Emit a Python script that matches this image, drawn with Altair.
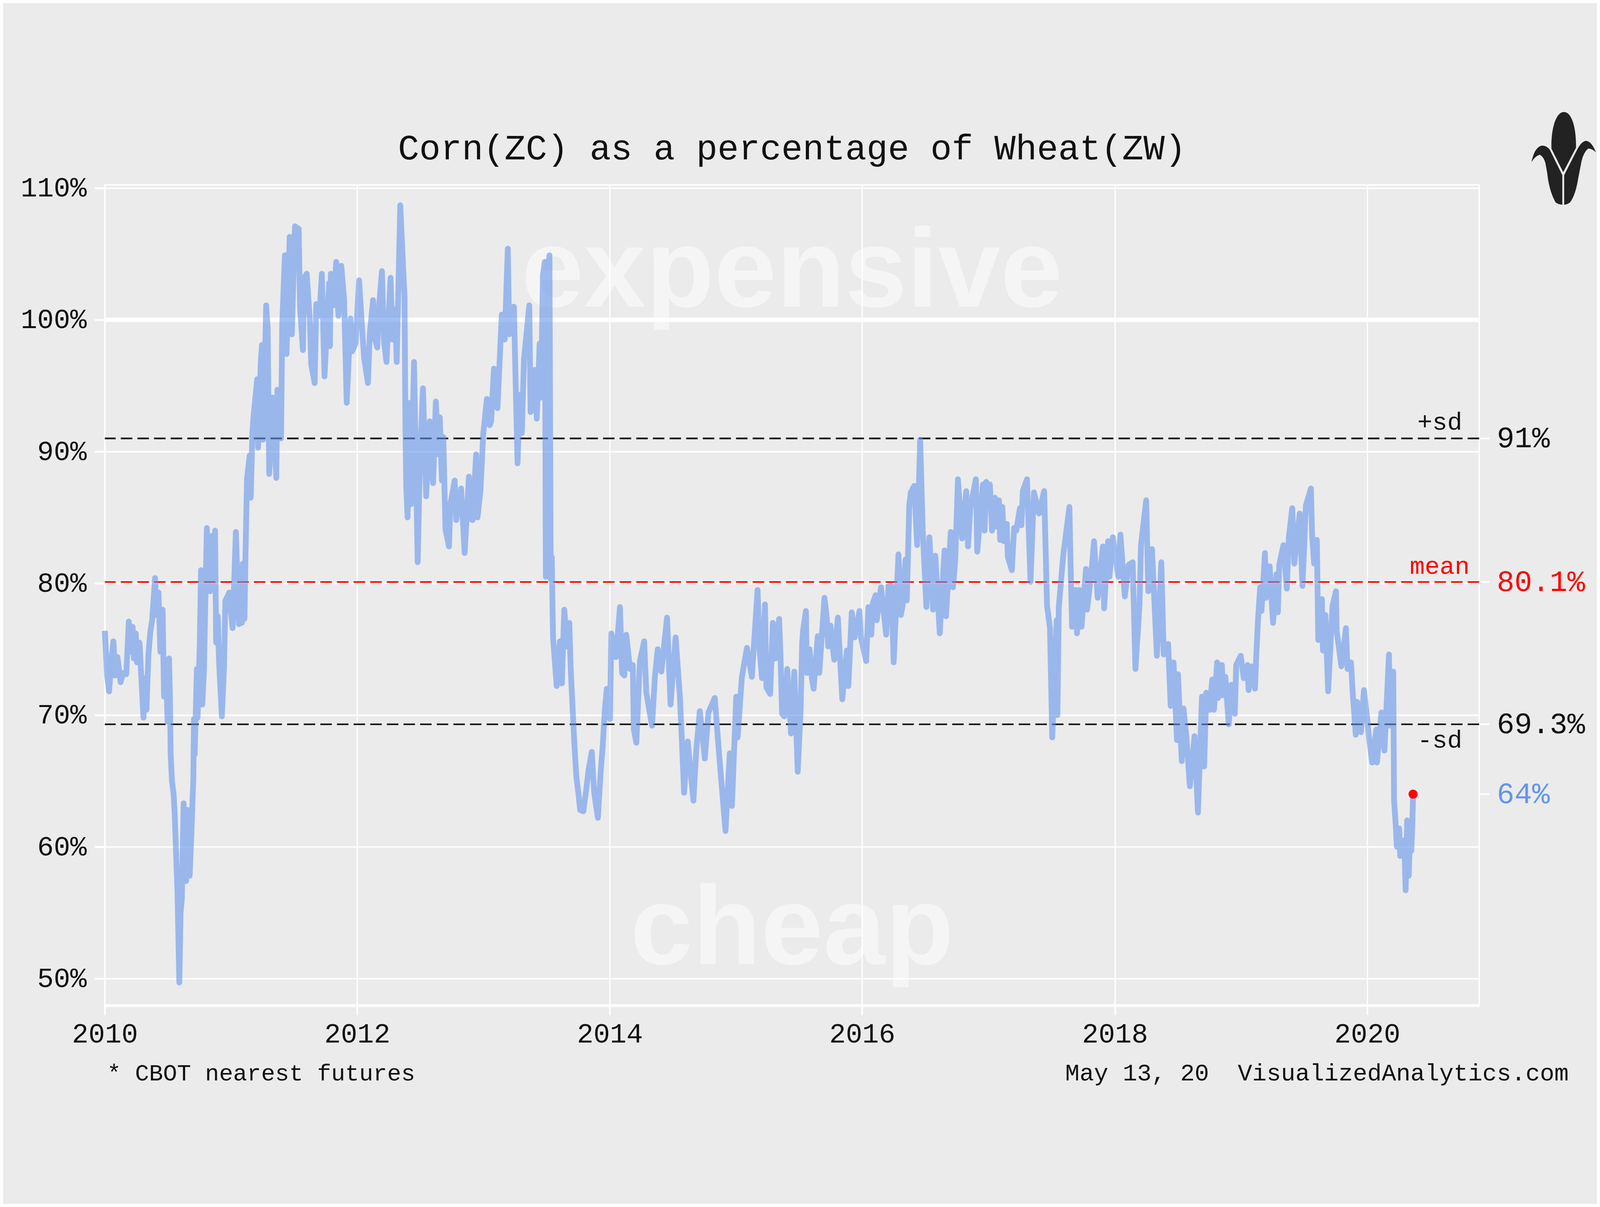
import altair as alt
import pandas as pd

# ---------------- text content ----------------
title_text = "Corn(ZC) as a percentage of Wheat(ZW)"
footnote_left = "* CBOT nearest futures"
footnote_right = "May 13, 20\u00a0\u00a0VisualizedAnalytics.com"
watermark_top = "expensive"
watermark_bottom = "cheap"

x_tick_years = [2010, 2012, 2014, 2016, 2018, 2020]
y_tick_values = [50, 60, 70, 80, 90, 100, 110]
highlight_level = [100]

band_names = ["+sd", "mean", "-sd"]
band_values = [91.0, 80.1, 69.3]
band_colors = ["#111111", "red", "#111111"]

right_labels = ["91%", "80.1%", "69.3%", "64%"]
right_values = [91.0, 80.1, 69.3, 64.0]
right_colors = ["#111111", "red", "#111111", "#6495ED"]

# ---------------- series: (years since 2010-01-01, percent) ----------------
pts_2010 = [
    (0.000, 76.4), (0.018, 73.0), (0.034, 71.8), (0.050, 74.0), (0.068, 75.6), (0.082, 73.0),
    (0.100, 74.4), (0.125, 72.5), (0.145, 73.2), (0.170, 73.1), (0.190, 77.1), (0.205, 74.8),
    (0.220, 76.7), (0.230, 74.3), (0.245, 76.2), (0.255, 74.0), (0.275, 75.5), (0.306, 69.8),
    (0.318, 72.8), (0.330, 70.4), (0.345, 74.5), (0.360, 76.3), (0.375, 77.2), (0.398, 80.4),
    (0.412, 77.6), (0.425, 79.3), (0.440, 74.8), (0.458, 78.0), (0.469, 71.4), (0.485, 73.5),
    (0.497, 69.5), (0.509, 74.3), (0.515, 71.7), (0.522, 66.9), (0.532, 65.0), (0.545, 64.0),
    (0.554, 62.4), (0.565, 59.4), (0.576, 56.4), (0.590, 49.7), (0.600, 55.0), (0.610, 56.0),
    (0.624, 63.3), (0.644, 57.4), (0.655, 62.8), (0.672, 57.8), (0.684, 60.6), (0.701, 65.1),
    (0.706, 69.7), (0.712, 67.0), (0.729, 73.5), (0.735, 69.8), (0.752, 75.4), (0.762, 81.0),
    (0.772, 70.8), (0.785, 73.3), (0.795, 78.0), (0.808, 84.2), (0.823, 80.0), (0.834, 79.4),
    (0.846, 83.6), (0.860, 80.0), (0.873, 84.0), (0.882, 75.5), (0.895, 77.5), (0.905, 74.0),
    (0.927, 69.9), (0.944, 73.6), (0.955, 78.7), (0.972, 79.0), (0.985, 79.3),
]
pts_2011 = [
    (1.012, 76.6), (1.038, 83.9), (1.062, 76.9), (1.075, 80.0), (1.085, 77.0), (1.093, 81.5),
    (1.106, 77.3), (1.115, 82.5), (1.126, 87.9), (1.147, 89.7), (1.156, 86.5), (1.169, 91.5),
    (1.181, 93.0), (1.207, 95.5), (1.214, 90.3), (1.236, 96.9), (1.245, 98.1), (1.253, 90.9),
    (1.278, 101.1), (1.290, 99.4), (1.302, 88.3), (1.329, 94.1), (1.358, 88.0), (1.367, 94.7),
    (1.396, 91.0), (1.405, 99.6), (1.426, 104.9), (1.439, 97.4), (1.464, 106.3), (1.481, 98.9),
    (1.506, 107.1), (1.536, 106.9), (1.546, 101.0), (1.569, 97.7), (1.580, 103.2), (1.599, 103.5),
    (1.624, 100.0), (1.635, 96.6), (1.662, 95.2), (1.675, 101.2), (1.700, 100.3), (1.719, 103.5),
    (1.740, 95.7), (1.777, 102.8), (1.783, 98.0), (1.790, 103.5), (1.811, 101.1), (1.833, 104.4),
    (1.850, 100.3), (1.873, 104.1), (1.895, 101.6), (1.916, 93.7), (1.946, 100.1), (1.958, 97.6),
    (1.986, 98.2),
]
pts_2012 = [
    (2.014, 103.0), (2.037, 99.5), (2.054, 97.1), (2.084, 95.2), (2.099, 99.0), (2.125, 101.5),
    (2.135, 98.7), (2.158, 97.9), (2.172, 101.0), (2.195, 103.7), (2.212, 98.3), (2.231, 96.8),
    (2.263, 103.2), (2.280, 98.5), (2.300, 100.8), (2.312, 96.8), (2.340, 108.7), (2.374, 101.7),
    (2.381, 91.7), (2.388, 87.2), (2.398, 85.0), (2.415, 93.7), (2.425, 86.0), (2.449, 96.8),
    (2.461, 90.6), (2.478, 81.6), (2.495, 89.0), (2.520, 94.8), (2.545, 86.6), (2.574, 92.3),
    (2.585, 89.3), (2.600, 87.6), (2.622, 93.8), (2.641, 89.8), (2.653, 92.6), (2.670, 87.8),
    (2.681, 91.1), (2.698, 84.1), (2.726, 82.8), (2.737, 86.0), (2.771, 87.8), (2.783, 84.8),
    (2.822, 87.2), (2.850, 82.3), (2.884, 88.1), (2.896, 84.9), (2.913, 84.8), (2.941, 89.8),
    (2.952, 85.0), (2.975, 87.0), (2.997, 91.3),
]
pts_2013 = [
    (3.026, 94.0), (3.048, 92.0), (3.060, 92.3), (3.082, 96.3), (3.110, 93.3), (3.127, 96.8),
    (3.144, 100.4), (3.167, 98.5), (3.192, 105.4), (3.203, 98.9), (3.240, 101.0), (3.269, 89.1),
    (3.286, 94.3), (3.303, 91.4), (3.320, 97.0), (3.362, 101.1), (3.372, 93.0), (3.404, 96.2),
    (3.421, 92.5), (3.444, 98.2), (3.455, 94.1), (3.470, 103.4), (3.485, 104.4), (3.493, 80.5),
    (3.505, 103.5), (3.522, 104.9), (3.532, 80.3), (3.540, 82.0), (3.550, 75.9), (3.579, 72.2),
    (3.605, 75.6), (3.620, 72.4), (3.639, 78.0), (3.662, 75.2), (3.679, 77.0), (3.690, 73.5),
    (3.707, 70.2), (3.718, 68.0), (3.735, 65.3), (3.752, 64.0), (3.765, 62.8), (3.790, 62.7),
    (3.814, 64.4), (3.831, 65.8), (3.857, 67.2), (3.876, 64.1), (3.905, 62.2), (3.927, 65.6),
    (3.944, 67.7), (3.961, 70.5), (3.976, 72.0),
]
pts_2014 = [
    (4.001, 69.7), (4.012, 76.2), (4.049, 74.4), (4.080, 78.2), (4.097, 73.2), (4.115, 73.0),
    (4.130, 76.1), (4.160, 73.5), (4.182, 73.8), (4.190, 68.9), (4.210, 67.9), (4.238, 74.1),
    (4.272, 75.6), (4.289, 71.7), (4.334, 69.2), (4.357, 72.9), (4.379, 75.0), (4.408, 73.3),
    (4.453, 77.4), (4.481, 70.8), (4.521, 75.9), (4.555, 71.4), (4.571, 68.0), (4.588, 64.1),
    (4.617, 68.0), (4.662, 63.5), (4.685, 67.4), (4.713, 70.3), (4.752, 66.7), (4.781, 70.2),
    (4.831, 71.3), (4.865, 67.1), (4.916, 61.2), (4.950, 67.1), (4.967, 63.1),
]
pts_2015 = [
    (5.001, 71.4), (5.012, 68.3), (5.046, 72.9), (5.086, 75.1), (5.125, 72.9), (5.170, 79.5),
    (5.187, 74.9), (5.205, 72.8), (5.229, 78.4), (5.240, 72.1), (5.270, 71.6), (5.291, 77.0),
    (5.311, 74.3), (5.341, 77.3), (5.352, 74.4), (5.364, 70.1), (5.382, 69.9), (5.405, 73.5),
    (5.435, 68.6), (5.461, 73.3), (5.488, 65.7), (5.511, 70.3), (5.523, 75.4), (5.530, 76.4),
    (5.553, 77.9), (5.560, 73.2), (5.582, 75.0), (5.600, 72.8), (5.614, 72.0), (5.647, 76.0),
    (5.659, 73.2), (5.700, 78.9), (5.718, 77.4), (5.730, 75.2), (5.747, 76.8), (5.777, 74.2),
    (5.806, 77.4), (5.841, 71.2), (5.877, 74.9), (5.889, 72.2), (5.916, 77.8), (5.939, 75.9),
    (5.977, 77.9), (5.989, 75.9),
]
pts_2016 = [
    (6.030, 74.1), (6.048, 78.2), (6.071, 76.1), (6.083, 78.5), (6.105, 79.1), (6.114, 77.2),
    (6.148, 79.7), (6.189, 76.1), (6.207, 79.8), (6.230, 79.8), (6.248, 74.0), (6.286, 82.2),
    (6.305, 77.6), (6.319, 78.3), (6.342, 81.8), (6.352, 78.7), (6.372, 86.0), (6.384, 86.9),
    (6.411, 87.4), (6.434, 82.9), (6.458, 90.9), (6.478, 84.1), (6.507, 78.2), (6.531, 83.5),
    (6.560, 78.0), (6.578, 82.1), (6.613, 76.2), (6.651, 82.5), (6.663, 77.5), (6.700, 83.9),
    (6.718, 79.7), (6.735, 81.6), (6.757, 87.9), (6.790, 83.4), (6.823, 87.0), (6.837, 82.8),
    (6.855, 85.7), (6.899, 87.9), (6.910, 82.4), (6.955, 87.5), (6.968, 84.0), (6.981, 87.7),
    (6.992, 86.3),
]
pts_2017 = [
    (7.010, 87.5), (7.027, 84.0), (7.050, 86.5), (7.062, 84.3), (7.082, 86.3), (7.091, 83.3),
    (7.109, 85.8), (7.120, 83.2), (7.144, 84.5), (7.152, 82.0), (7.184, 81.0), (7.202, 84.2),
    (7.219, 84.0), (7.248, 85.7), (7.260, 84.4), (7.271, 87.0), (7.304, 87.9), (7.332, 80.1),
    (7.347, 84.0), (7.359, 86.9), (7.399, 85.3), (7.440, 87.0), (7.452, 82.4), (7.463, 78.3),
    (7.486, 76.6), (7.504, 68.3), (7.539, 77.2), (7.545, 70.0), (7.556, 78.2), (7.591, 82.1),
    (7.640, 85.8), (7.650, 81.1), (7.661, 76.7), (7.690, 79.5), (7.700, 76.2), (7.719, 79.5),
    (7.736, 76.7), (7.771, 81.1), (7.780, 78.0), (7.818, 81.2), (7.835, 83.2), (7.864, 78.9),
    (7.905, 82.8), (7.915, 78.1), (7.946, 83.2), (7.957, 80.5), (7.984, 83.5),
]
pts_2018 = [
    (8.027, 80.5), (8.044, 83.7), (8.079, 79.0), (8.108, 81.4), (8.141, 81.6), (8.163, 73.5),
    (8.195, 78.3), (8.207, 82.9), (8.248, 86.3), (8.265, 79.4), (8.294, 82.6), (8.333, 74.5),
    (8.368, 81.6), (8.387, 74.6), (8.422, 75.4), (8.442, 70.7), (8.465, 74.0), (8.492, 68.1),
    (8.500, 73.1), (8.530, 66.5), (8.544, 70.5), (8.567, 68.3), (8.594, 64.6), (8.631, 68.4),
    (8.658, 62.6), (8.690, 71.4), (8.707, 66.1), (8.724, 71.7), (8.750, 70.4), (8.771, 72.7),
    (8.785, 70.4), (8.810, 74.0), (8.818, 71.3), (8.848, 73.8), (8.855, 71.5), (8.875, 72.9),
    (8.902, 69.3), (8.923, 72.3), (8.950, 70.1), (8.961, 73.8), (8.997, 74.5),
]
pts_2019 = [
    (9.021, 72.8), (9.051, 73.8), (9.059, 71.9), (9.084, 73.7), (9.110, 72.0), (9.120, 74.5),
    (9.134, 77.3), (9.151, 79.7), (9.161, 77.9), (9.189, 82.3), (9.197, 78.9), (9.226, 81.3),
    (9.253, 77.0), (9.280, 80.7), (9.291, 77.8), (9.302, 81.4), (9.335, 82.9), (9.362, 79.6),
    (9.378, 83.5), (9.405, 85.7), (9.421, 81.5), (9.464, 85.3), (9.486, 79.8), (9.513, 85.9),
    (9.553, 87.2), (9.562, 83.7), (9.578, 81.5), (9.600, 83.3), (9.611, 75.7), (9.640, 78.8),
    (9.648, 74.9), (9.668, 77.6), (9.689, 71.8), (9.724, 78.3), (9.751, 79.4), (9.757, 76.4),
    (9.794, 73.7), (9.830, 76.6), (9.843, 73.5), (9.870, 74.0), (9.886, 71.4), (9.908, 68.5),
    (9.919, 71.0), (9.949, 68.7), (9.973, 71.9),
]
pts_2020 = [
    (10.000, 69.6), (10.014, 68.2), (10.038, 66.4), (10.070, 68.9), (10.076, 66.4), (10.111, 70.2),
    (10.135, 67.3), (10.171, 74.6), (10.178, 69.2), (10.205, 73.3), (10.211, 63.6), (10.227, 61.3),
    (10.233, 60.0), (10.252, 61.4), (10.260, 59.3), (10.292, 60.5), (10.303, 56.7), (10.315, 62.0),
    (10.328, 57.8), (10.340, 61.8), (10.348, 59.7), (10.355, 61.3), (10.362, 64.0),
]

# ---------------- build tables ----------------
START = pd.Timestamp("2010-01-01")
all_pts = (pts_2010 + pts_2011 + pts_2012 + pts_2013 + pts_2014 + pts_2015
           + pts_2016 + pts_2017 + pts_2018 + pts_2019 + pts_2020)
series = pd.DataFrame({
    "date": [START + pd.to_timedelta(t * 365.25, unit="D") for t, _ in all_pts],
    "ratio": [v for _, v in all_pts],
})
last_point = series.tail(1)
bands = pd.DataFrame({"name": band_names, "level": band_values, "color": band_colors})
right = pd.DataFrame({"label": right_labels, "level": right_values, "color": right_colors})
hundred = pd.DataFrame({"level": highlight_level})

# ---------------- geometry / styles ----------------
TOTAL_W, TOTAL_H = 4984, 3074
MONO = "Liberation Mono"
BG = "#EBEBEB"
LINE_BLUE = "#6495ED"

def px(expr):
    return alt.value({"expr": expr})

x_scale = alt.Scale(domain=[alt.DateTime(year=2010, month=1, date=1),
                            alt.DateTime(year=2020, month=11, date=20)], nice=False)
y_scale = alt.Scale(domain=[47.96, 110.24], nice=False, zero=False)

x_axis = alt.Axis(values=[alt.DateTime(year=y, month=1, date=1) for y in x_tick_years],
                  format="%Y", title=None, labelFlush=False, labelOverlap=False, labelAngle=0)
y_axis = alt.Axis(values=y_tick_values, labelExpr="datum.value + '%'", title=None)

CORN = ("M -0.015 0.30 L -0.27 -0.21 C -0.28 -0.62 -0.18 -1.0 0 -1.0 "
        "C 0.18 -1.0 0.27 -0.62 0.26 -0.23 Z "
        "M -0.035 1.0 L -0.035 0.36 L -0.306 -0.19 Q -0.40 -0.30 -0.50 -0.27 "
        "Q -0.64 -0.22 -0.70 0.08 Q -0.62 -0.05 -0.52 -0.08 Q -0.44 -0.04 -0.40 0.10 "
        "L -0.36 0.32 Q -0.32 0.70 -0.18 0.95 Q -0.11 0.995 -0.035 1.0 Z "
        "M 0.005 1.0 L 0.005 0.36 L 0.296 -0.21 Q 0.38 -0.37 0.48 -0.38 "
        "Q 0.60 -0.36 0.69 -0.13 Q 0.60 -0.22 0.52 -0.21 Q 0.42 -0.12 0.38 0.06 "
        "L 0.31 0.42 Q 0.25 0.80 0.13 0.95 Q 0.07 0.995 0.005 1.0 Z")

Y = lambda f: alt.Y(f, scale=y_scale, axis=y_axis)
X = lambda f: alt.X(f, scale=x_scale, axis=x_axis)

# ---------------- layers ----------------
hundred_rule = alt.Chart(hundred).mark_rule(color="white", strokeWidth=14).encode(
    y=Y("level:Q"))

band_rules = alt.Chart(bands).mark_rule(strokeDash=[36, 16], strokeWidth=5).encode(
    y=Y("level:Q"), color=alt.Color("color:N", scale=None))

def watermark(word, level):
    return alt.Chart(pd.DataFrame({"w": [word]})).mark_text(
        font="Liberation Sans", fontWeight="bold", fontSize=350, color="white",
        opacity=0.5, align="center", baseline="alphabetic").encode(
        x=px("width / 2"), y=alt.datum(level, scale=y_scale, axis=y_axis), text="w:N")

wm_top = watermark(watermark_top, 101.0)
wm_bottom = watermark(watermark_bottom, 51.1)

line = alt.Chart(series).mark_line(color=LINE_BLUE, opacity=0.6, strokeWidth=18,
                                   strokeJoin="round", strokeCap="butt").encode(
    x=X("date:T"), y=Y("ratio:Q"))

dot = alt.Chart(last_point).mark_circle(color="red", size=800, opacity=1).encode(
    x=X("date:T"), y=Y("ratio:Q"))

def band_label(name, xexpr, dy):
    return alt.Chart(bands).transform_filter(alt.datum.name == name).mark_text(
        font=MONO, fontSize=78, align="right", baseline="alphabetic", dy=dy).encode(
        x=px(xexpr), y=Y("level:Q"),
        text="name:N", color=alt.Color("color:N", scale=None))

lab_plus = band_label("+sd", "width - 53", -27)
lab_mean = band_label("mean", "width - 30", -26)
lab_minus = band_label("-sd", "width - 53", 73)

right_ticks = alt.Chart(right).mark_rule(color="white", strokeWidth=5).encode(
    x=px("width"), x2=px("width + 32"), y=Y("level:Q"))

right_text = alt.Chart(right).mark_text(font=MONO, fontSize=92, align="left",
                                        baseline="middle").encode(
    x=px("width + 55"), y=Y("level:Q"),
    text="label:N", color=alt.Color("color:N", scale=None))

def free_text(txt, xexpr, yexpr, size, align):
    return alt.Chart(pd.DataFrame({"t": [txt]})).mark_text(
        font=MONO, fontSize=size, align=align, baseline="alphabetic", color="#111111").encode(
        x=px(xexpr), y=px(yexpr), text="t:N")

title = free_text(title_text, "width / 2", "-80", 111, "center")
foot_l = free_text(footnote_left, "7", "height + 235", 73, "left")
foot_r = free_text(footnote_right, "width + 280", "height + 235", 75, "right")

logo = alt.Chart(pd.DataFrame({"k": ["logo"]})).mark_point(
    shape=CORN, filled=True, fill="#222222", opacity=1, size=84100, strokeWidth=0).encode(
    x=px("width + 265"), y=px("-83"))

chart = alt.layer(
    hundred_rule, band_rules, wm_top, wm_bottom, line, dot,
    lab_plus, lab_mean, lab_minus, right_ticks, right_text,
    title, foot_l, foot_r, logo,
).properties(
    width=TOTAL_W, height=TOTAL_H,
    autosize=alt.AutoSizeParams(type="fit", contains="padding"),
    padding={"left": 54, "top": 0, "right": 2, "bottom": 30},
    background=BG,
).configure_view(
    stroke="white", strokeWidth=4.6, fill=BG,
).configure_axis(
    labelFont=MONO, labelFontSize=86, labelColor="#111111", labelLimit=0,
    tickColor="white", grid=True, gridColor="white", domain=False,
).configure_axisX(
    labelPadding=18, tickSize=30, tickWidth=5, gridWidth=4,
    domain=True, domainColor="white", domainWidth=9,
).configure_axisY(
    labelPadding=25, tickSize=32, tickWidth=6, gridWidth=4.5,
)

chart.save("out.html", embed_options={"renderer": "svg", "actions": False})
